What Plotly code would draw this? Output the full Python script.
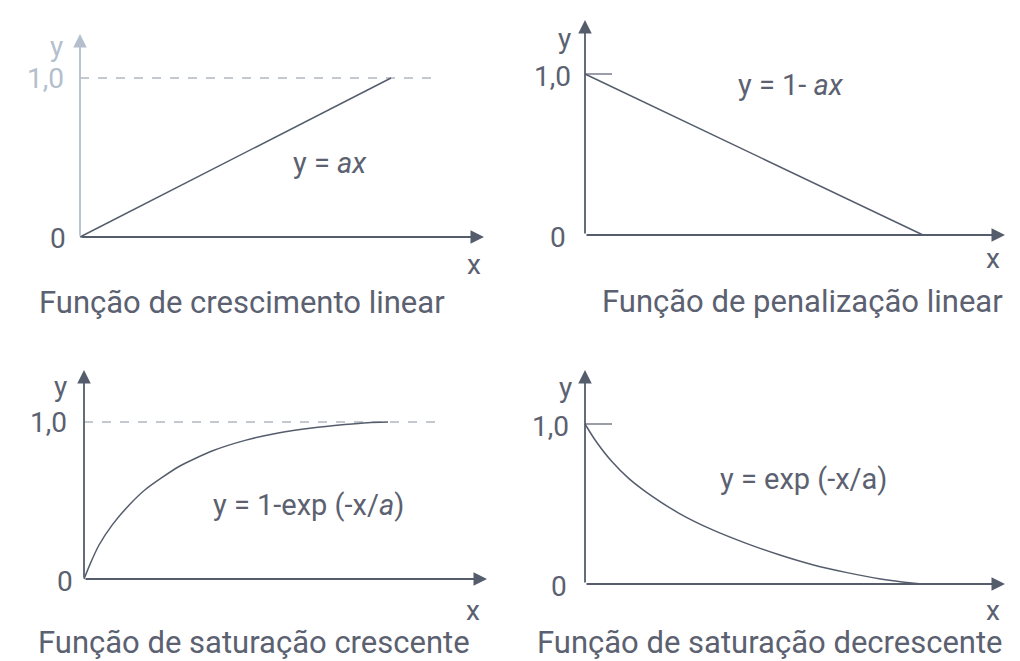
"""
Quatro funções de pertinência (crescimento / penalização / saturação).
Cada painel tem os seus próprios eixos, escondidos; os eixos com setas são desenhados à mão.
"""
import plotly.graph_objects as go

W, H = 1020, 661

# ─── DADOS (x normalizado para que a curva acabe em x = 1) ───

lin_x = [0, 1.0]
lin_up_y = [0, 1.0]
lin_down_y = [1.0, 0]

sat_up_x = [0, 0.02, 0.049, 0.093, 0.148, 0.202, 0.311, 0.421, 0.530, 0.639, 0.749, 0.858, 0.934, 1.0]
sat_up_y = [0, 0.095, 0.215, 0.345, 0.470, 0.570, 0.715, 0.815, 0.883, 0.930, 0.962, 0.984, 0.996, 1.0]

sat_down_x = [0, 0.03, 0.08, 0.13, 0.18, 0.28, 0.38, 0.48, 0.58, 0.68, 0.78, 0.88, 0.98, 1.0]
sat_down_y = [1.0, 0.900, 0.765, 0.660, 0.578, 0.442, 0.338, 0.254, 0.181, 0.119, 0.071, 0.031, 0.004, 0]

captions = [
    "Função de crescimento linear",
    "Função de penalização linear",
    "Função de saturação crescente",
    "Função de saturação decrescente",
]
equations = [
    "y = <i>ax</i>",
    "y = 1- <i>ax</i>",
    "y = 1-exp (-x/<i>a</i>)",
    "y = exp (-x/a)",
]
y_ticks = ["1,0", "0"]

# ─── ESTILO ───────────────────────────────────────────────────
INK = "#555d6d"
FADED = "#b3bfcd"
TEXT = "#5b6170"
FONT = "Roboto, 'Liberation Sans', sans-serif"

# geometria em pixels: origem, escalas, pontas das setas, linha de referência em y = 1
PANELS = [
    dict(ox=72, oy=229, sx=311, sy=159, xtip=476, ytip=26, ref_end=428, ref="dash",
         yaxis_col=FADED, ylab_col=FADED, data=(lin_x, lin_up_y),
         cap=(234, 294), eq=(322, 155), one=(37, 70), zero=(50, 231), ylab=(48, 38), xlab=(466, 256)),
    dict(ox=577, oy=227, sx=338, sy=161, xtip=997, ytip=12, ref_end=604, ref="solid",
         yaxis_col=INK, ylab_col=TEXT, data=(lin_x, lin_down_y),
         cap=(794, 293), eq=(783, 77), one=(544, 68), zero=(550, 229), ylab=(556, 30), xlab=(985, 251)),
    dict(ox=76, oy=571, sx=304, sy=157, xtip=479, ytip=362, ref_end=428, ref="dash",
         yaxis_col=INK, ylab_col=TEXT, data=(sat_up_x, sat_up_y),
         cap=(246, 634), eq=(300, 497), one=(40, 414), zero=(57, 573), ylab=(52, 378), xlab=(465, 602)),
    dict(ox=577, oy=576, sx=336, sy=160, xtip=997, ytip=362, ref_end=604, ref="solid",
         yaxis_col=INK, ylab_col=TEXT, data=(sat_down_x, sat_down_y),
         cap=(762, 634), eq=(795, 471), one=(542, 418), zero=(551, 578), ylab=(557, 380), xlab=(985, 602)),
]

fig = go.Figure()
annotations = []
layout_axes = {}


def paper(px, py):
    return px / W, 1 - py / H


def label(pos, text, size, color=TEXT):
    x, y = paper(*pos)
    annotations.append(dict(
        x=x, y=y, xref="paper", yref="paper", text=text, showarrow=False,
        xanchor="center", yanchor="middle", borderpad=0,
        font=dict(family=FONT, size=size, color=color),
    ))


for i, p in enumerate(PANELS):
    n = "" if i == 0 else str(i + 1)
    xr, yr = "x" + n, "y" + n
    # caixa do painel (pixels) um pouco maior que o conteúdo
    left, right = p["ox"] - 20, p["xtip"] + 12
    top, bottom = p["ytip"] - 10, p["oy"] + 15
    layout_axes["xaxis" + n] = dict(
        domain=[left / W, right / W],
        range=[(left - p["ox"]) / p["sx"], (right - p["ox"]) / p["sx"]],
        visible=False, fixedrange=True, anchor=yr,
    )
    layout_axes["yaxis" + n] = dict(
        domain=[1 - bottom / H, 1 - top / H],
        range=[(p["oy"] - bottom) / p["sy"], (p["oy"] - top) / p["sy"]],
        visible=False, fixedrange=True, anchor=xr,
    )

    # linha de referência em y = 1,0
    ref_x = (p["ref_end"] - p["ox"]) / p["sx"]
    fig.add_trace(go.Scatter(
        x=[0, ref_x], y=[1.0, 1.0], mode="lines", xaxis=xr, yaxis=yr,
        line=dict(color="#8a93a1" if p["ref"] == "dash" else INK, width=1.2,
                  dash="dash" if p["ref"] == "dash" else "solid"),
        hoverinfo="skip", showlegend=False,
    ))

    # curva
    cx, cy = p["data"]
    fig.add_trace(go.Scatter(
        x=cx, y=cy, mode="lines", xaxis=xr, yaxis=yr,
        line=dict(color=INK, width=1.5,
                  shape="spline" if len(cx) > 2 else "linear", smoothing=0.6),
        showlegend=False,
    ))

    # eixos com setas
    x_tip = (p["xtip"] - p["ox"]) / p["sx"]
    y_tip = (p["oy"] - p["ytip"]) / p["sy"]
    for (tx, ty, col) in [(x_tip, 0, INK), (0, y_tip, p["yaxis_col"])]:
        annotations.append(dict(
            x=tx, y=ty, ax=0, ay=0, xref=xr, yref=yr, axref=xr, ayref=yr,
            showarrow=True, arrowhead=2, arrowsize=1.5, arrowwidth=1.8,
            arrowcolor=col, standoff=0, text="",
        ))

    label(p["cap"], captions[i], 31)
    label(p["eq"], equations[i], 29)
    label(p["one"], y_ticks[0], 28, p["ylab_col"])
    label(p["zero"], y_ticks[1], 28)
    label(p["ylab"], "y", 28, p["ylab_col"])
    label(p["xlab"], "x", 28)

fig.update_layout(
    width=W, height=H,
    margin=dict(l=0, r=0, t=0, b=0),
    paper_bgcolor="white", plot_bgcolor="rgba(0,0,0,0)",
    font=dict(family=FONT, color=TEXT),
    annotations=annotations,
    **layout_axes,
)

fig.write_html("out.html", config={"displayModeBar": False})
